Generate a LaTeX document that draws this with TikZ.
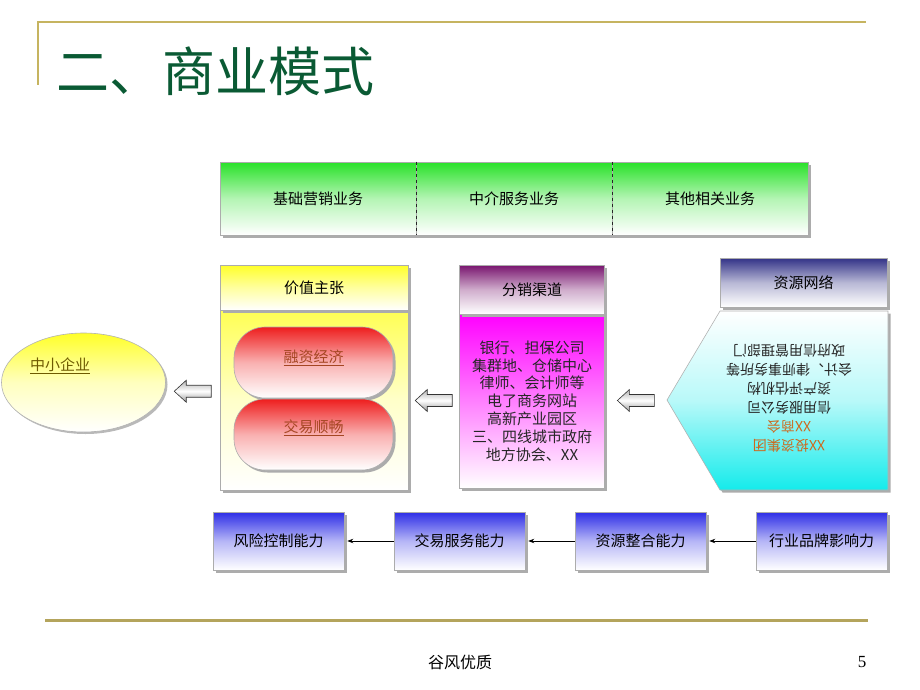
\documentclass[tikz,border=0pt]{standalone}
\usepackage{fontspec}
\setmainfont{Liberation Serif}
\newfontfamily\cjk{Noto Sans CJK SC}
\usetikzlibrary{shapes.geometric,shadows,arrows.meta,calc}
\definecolor{gold}{RGB}{198,180,96}
\definecolor{gold2}{RGB}{180,164,92}
\definecolor{titlegreen}{RGB}{10,90,52}
\definecolor{grn}{RGB}{40,225,40}
\definecolor{ylw}{RGB}{255,255,40}
\definecolor{pillred}{RGB}{238,30,30}
\definecolor{plum}{RGB}{120,20,110}
\definecolor{mag}{RGB}{255,0,255}
\definecolor{navy}{RGB}{50,50,135}
\definecolor{blu}{RGB}{45,45,230}
\definecolor{cyn}{RGB}{20,235,235}
\definecolor{olivetext}{RGB}{110,90,0}
\definecolor{browntext}{RGB}{165,70,35}
\definecolor{orangetext}{RGB}{205,105,30}
\begin{document}
\begin{tikzpicture}[x=1pt,y=-1pt,
  base/.style={rectangle, draw=gray!65, line width=0.6pt, inner sep=0pt,
    font=\cjk\fontsize{15}{17}\selectfont,
    drop shadow={shadow xshift=2.5pt, shadow yshift=-2.5pt, fill=gray!65, opacity=1}},
  topbox/.style={base, minimum width=196, minimum height=73,
    top color=grn, bottom color=white, middle color=grn!35!white},
  yhead/.style={base, minimum width=188, minimum height=45,
    top color=ylw, bottom color=white, middle color=ylw!45!white},
  ybody/.style={base, minimum width=188, minimum height=180,
    top color=ylw!80!white, bottom color=white, middle color=ylw!25!white},
  phead/.style={base, minimum width=145, minimum height=49,
    top color=plum, bottom color=white, middle color=plum!35!white},
  pbody/.style={base, minimum width=145, minimum height=174,
    top color=mag, bottom color=white, middle color=mag!50!white,
    align=center, font=\cjk\fontsize{15}{17.8}\selectfont, text=black!85},
  nhead/.style={base, minimum width=167, minimum height=49,
    top color=navy, bottom color=white, middle color=navy!35!white},
  capbox/.style={base, minimum width=131, minimum height=58,
    top color=blu, bottom color=white, middle color=blu!35!white},
  pill/.style={base, rounded corners=31pt, minimum width=159, minimum height=71,
    top color=pillred, bottom color=white, middle color=pillred!35!white},
  pilltext/.style={font=\cjk\fontsize{15}{17}\selectfont, text=browntext, inner sep=0pt},
  blockarrow/.style={draw=gray!40!black, line width=0.6pt,
    top color=gray!60, bottom color=gray!80, middle color=white},
  thinarrow/.style={-{Stealth[length=6pt,width=4.5pt]}, line width=0.7pt, black, shorten >=3pt}
]
\useasboundingbox (0,0) rectangle (920,690);

% header frame lines
\coordinate (g1) at (38,85);
\coordinate (g2) at (38,22);
\coordinate (g3) at (866,22);
\draw[gold, line width=2pt] (g1) -- (g2) -- (g3);
\node[anchor=base west, font=\cjk\fontsize{53}{53}\selectfont, text=titlegreen, inner sep=0pt]
  (title) at (56,92) {二、商业模式};

% top row
\node[topbox] (t1) at (318,198.5) {基础营销业务};
\node[topbox] (t2) at (514,198.5) {中介服务业务};
\node[topbox] (t3) at (710,198.5) {其他相关业务};
\draw[dashed, gray!30!black, line width=0.6pt] (t1.north east) -- (t1.south east);
\draw[dashed, gray!30!black, line width=0.6pt] (t2.north east) -- (t2.south east);

% value proposition
\node[ybody] (vbody) at (314,400) {};
\node[yhead] (vhead) at (314,287.5) {价值主张};
\node[pill] (p1) at (313.5,362.5) {};
\node[pill] (p2) at (313.5,434.5) {};
\node[pilltext] (p1t) at ([yshift=5pt]p1.center) {\underline{融资经济}};
\node[pilltext] (p2t) at ([yshift=7pt]p2.center) {\underline{交易顺畅}};

% SME ellipse
\node[ellipse, draw=gray!60, line width=0.6pt, minimum width=164, minimum height=99,
  top color=ylw, bottom color=white, middle color=ylw!30!white,
  drop shadow={shadow xshift=2pt, shadow yshift=-2pt, fill=gray!55, opacity=1}]
  (sme) at (83.5,382.5) {};
\node[font=\cjk\fontsize{15}{17}\selectfont, text=olivetext, inner sep=0pt]
  (smet) at (60,366) {\underline{中小企业}};

% distribution channel
\node[pbody] (dbody) at (532,401) {银行、担保公司\\集群地、仓储中心\\律师、会计师等\\电了商务网站\\高新产业园区\\三、四线城市政府\\地方协会、XX};
\node[phead] (dhead) at (532,289.5) {分销渠道};

% resource network
\coordinate (r1) at (720,311);
\coordinate (r2) at (888,311);
\coordinate (r3) at (888,490);
\coordinate (r4) at (720,490);
\coordinate (rtip) at (667,400);
\fill[gray!65] ([shift={(2.5,2.5)}]r1) -- ([shift={(2.5,2.5)}]r2) -- ([shift={(2.5,2.5)}]r3)
  -- ([shift={(2.5,2.5)}]r4) -- ([shift={(2.5,2.5)}]rtip) -- cycle;
\draw[draw=gray!60, line width=0.6pt, top color=white, bottom color=cyn, middle color=cyn!30!white]
  (r1) -- (r2) -- (r3) -- (r4) -- (rtip) -- cycle;
\node[rotate=180, align=center, font=\cjk\fontsize{14}{19}\selectfont, text=black!85, inner sep=0pt]
  (rlist) at (789,398) {{\color{orangetext}XX投资集团}\\{\color{orangetext}XX商会}\\信用服务公司\\资产评估机构\\会计、律师事务所等\\政府信用管理部门};
\node[nhead] (rhead) at (803.5,282.5) {资源网络};

% block arrows (pointing left)
\coordinate (a1) at ($(sme.east)!0.5!(vbody.west)$);
\coordinate (a2) at ($(vbody.east)!0.5!(dbody.west)$);
\coordinate (a3) at ($(dbody.east)!0.5!(rtip)$);
\foreach \c in {a1,a2,a3}{
  \draw[blockarrow] ([xshift=-18.5pt]\c) -- ++(12,-11) -- ++(0,5) -- ++(25,0) -- ++(0,12)
    -- ++(-25,0) -- ++(0,5) -- cycle;
}

% capabilities row
\node[capbox] (c1) at (278.5,541) {风险控制能力};
\node[capbox] (c2) at (459.5,541) {交易服务能力};
\node[capbox] (c3) at (640.5,541) {资源整合能力};
\node[capbox] (c4) at (821.5,541) {行业品牌影响力};
\draw[thinarrow] (c4.west) -- (c3.east);
\draw[thinarrow] (c3.west) -- (c2.east);
\draw[thinarrow] (c2.west) -- (c1.east);

% footer
\coordinate (f1) at (45,620);
\coordinate (f2) at (868,620);
\draw[gold2, line width=3pt] (f1) -- (f2);
\node[font=\cjk\fontsize{16}{16}\selectfont, inner sep=0pt] (foot) at (460,662) {谷风优质};
\node[font=\fontsize{17}{17}\selectfont, inner sep=0pt] (pnum) at (862,662) {5};
\end{tikzpicture}
\end{document}
